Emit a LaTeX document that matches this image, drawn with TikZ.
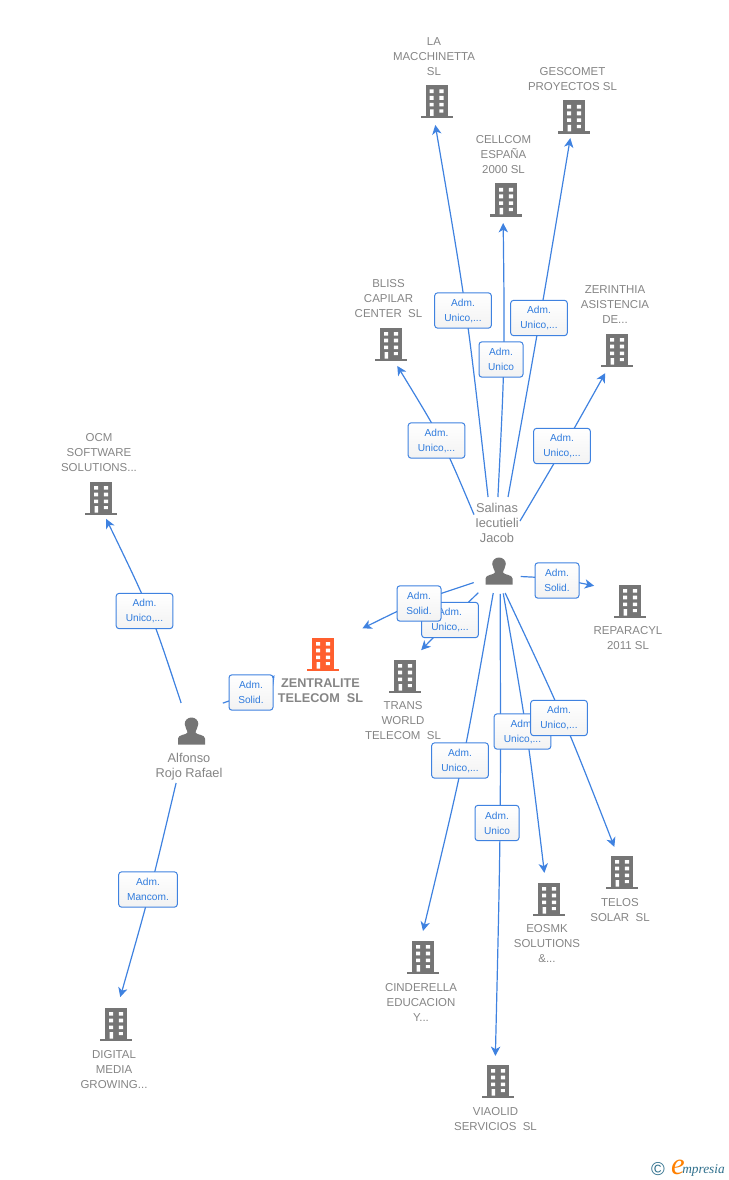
\documentclass[tikz,border=0pt]{standalone}
\usepackage{fontspec}
\setmainfont{Liberation Sans}
\newfontfamily\logofont{Liberation Serif}
\usetikzlibrary{arrows.meta,shapes.geometric}
\definecolor{grayicon}{HTML}{757575}
\definecolor{graytext}{HTML}{858585}
\definecolor{linkblue}{HTML}{3F82E0}
\definecolor{labelblue}{HTML}{2F7BDD}
\definecolor{accent}{HTML}{FF5F2E}
\definecolor{logoteal}{HTML}{2F6F8C}
\tikzset{
  x=0.75pt,y=0.75pt,
  conn/.style={draw=linkblue,line width=0.9pt,-{Stealth[length=7pt,width=7pt,inset=2pt]}},
  anchorzone/.style={circle,minimum size=#1*0.75pt,inner sep=0pt,outer sep=0pt},
  nm/.style={text=graytext,align=center,inner sep=0pt,font=\fontsize{8.6}{11.25}\selectfont},
  nmbold/.style={text=graytext,align=center,inner sep=0pt,outer sep=2.5pt,font=\bfseries\fontsize{9.5}{11.25}\selectfont},
  pname/.style={text=graytext,align=center,inner sep=0pt,outer sep=0pt,fill=white,font=\fontsize{9.6}{11.25}\selectfont},
  tag/.style={draw=linkblue,line width=0.75pt,rounded corners=2.2pt,top color=white,bottom color=black!5,
    text=labelblue,align=center,inner sep=0pt,minimum height=26.5pt,font=\fontsize{7.6}{11.25}\selectfont},
  tagS/.style={tag,minimum width=33pt},
  tagU/.style={tag,minimum width=42.5pt},
}
% building icon: name, x, y (centre), diameter of its connector zone, colour
\newcommand{\bld}[5]{%
  \node[anchorzone=#4] (#1) at (#2,#3) {};
  \begin{scope}[shift={(#2,#3+16.5)},y=-0.75pt]
    \fill[#5] (-11,0) rectangle (11,31);
    \fill[#5] (-16,31) rectangle (16,33.5);
    \fill[white] (-7,4.5) rectangle (-3,8.2) (2.8,4.5) rectangle (7,8.2)
      (-7,11) rectangle (-3,14.8) (2.8,11) rectangle (7,14.8)
      (-7,18) rectangle (-3,21.5) (2.8,18) rectangle (7,21.5)
      (-6.5,24.5) rectangle (-3,31) (2.8,24.5) rectangle (6.8,27.7);
  \end{scope}}
% person icon: name, x, y (centre), diameter of its connector zone
\newcommand{\psn}[4]{%
  \node[anchorzone=#4] (#1) at (#2,#3) {};
  \begin{scope}[shift={(#2,#3)}]
    \fill[grayicon] (-13.5,-13) -- (-13.5,-7) .. controls (-13.5,-3) and (-5,-3.5) .. (-4,-1)
      .. controls (-4,1) and (-6.8,4) .. (-6.8,7.5) .. controls (-6.8,11) and (-4,14) .. (0,14)
      .. controls (4,14) and (6.8,11) .. (6.8,7.5) .. controls (6.8,4) and (4,1) .. (4,-1)
      .. controls (5,-3.5) and (13.5,-3) .. (13.5,-7) -- (13.5,-13) -- cycle;
  \end{scope}}
\begin{document}
\begin{tikzpicture}
\useasboundingbox (0,0) rectangle (728,-1180);
% nodes with icons
\psn{pa}{499}{-571.5}{44.6}
\psn{pb}{191.5}{-731.5}{60.8}
\bld{la}{436.5}{-101.5}{47}{grayicon}
\bld{ge}{574}{-117}{42.8}{grayicon}
\bld{ce}{506}{-200}{46.4}{grayicon}
\bld{bl}{391}{-344}{45.6}{grayicon}
\bld{ze}{617}{-350}{51.9}{grayicon}
\bld{oc}{101}{-498}{43.2}{grayicon}
\bld{re}{630}{-601}{78}{grayicon}
\bld{zt}{323}{-654}{93.8}{accent}
\bld{tr}{405}{-676}{61}{grayicon}
\bld{te}{622}{-872}{52.5}{grayicon}
\bld{eo}{549}{-899}{53}{grayicon}
\bld{ci}{423}{-957}{52}{grayicon}
\bld{vi}{498}{-1081}{50.4}{grayicon}
\bld{di}{116}{-1024}{54.6}{grayicon}
% person names, with boxes the connectors start from
\node[pname,minimum width=34.5pt,minimum height=39pt] (pat) at (497,-523) {Salinas\\Iecutieli\\Jacob};
\node[pname,minimum height=24.75pt] (pbt) at (189,-766.5) {Alfonso\\Rojo Rafael};
\node[nmbold] (n8) at (320.5,-690.5) {ZENTRALITE\\TELECOM\ \ SL};
% connectors
\draw[conn] (pat.109) .. controls (467.1,-311) .. (la.-93.7);
\draw[conn] (pat.88) .. controls (504.8,-360) .. (ce.-97.4);
\draw[conn] (pat.67) .. controls (540.3,-317.5) .. (ge.-100.8);
\draw[conn] (pat.160.8) .. controls (442.8,-440.5) .. (bl.-74.7);
\draw[conn] (pat.5) .. controls (563.8,-447) .. (ze.-117.6);
\draw[conn] (pa.-13.4) .. controls (557,-578.3) .. (re.157.4);
\draw[conn,shorten <=4pt] (pa.-155.3) .. controls (418,-601) .. (zt.33.7);
\draw[conn,shorten <=5.5pt] (pa.-134.3) .. controls (449.6,-620.8) .. (tr.58.4);
\draw[conn] (pa.-105.6) .. controls (463.7,-762) .. (ci.90);
\draw[conn] (pa.-87.3) .. controls (500.8,-824.5) .. (vi.96.8);
\draw[conn] (pa.-79.5) .. controls (527.5,-733) .. (eo.100.9);
\draw[conn] (pa.-74.4) .. controls (564.8,-720) .. (te.107.7);
\draw[conn] (pb.110.2) .. controls (150.8,-611) .. (oc.-76.6);
\draw[conn] (pbt.-128.2) .. controls (150.7,-890) .. (di.81.6);
\draw[conn,shorten <=10pt] (pb.52) .. controls (266,-688) .. (n8.north west);
% connector labels, later ones on top
\node[tagU] (t1) at (463,-310.5) {Adm.\\Unico,...};
\node[tagU] (t2) at (539,-318) {Adm.\\Unico,...};
\node[tagS] (t3) at (501,-359.5) {Adm.\\Unico};
\node[tagU] (t4) at (436.5,-440.5) {Adm.\\Unico,...};
\node[tagU] (t5) at (562,-446) {Adm.\\Unico,...};
\node[tagS] (t6) at (557,-580.5) {Adm.\\Solid.};
\node[tagU] (t7) at (450,-620) {Adm.\\Unico,...};
\node[tagS] (t8) at (419,-603.5) {Adm.\\Solid.};
\node[tagU] (t9) at (522.5,-731.5) {Adm.\\Unico,...};
\node[tagU] (t10) at (559,-718) {Adm.\\Unico,...};
\node[tagU] (t11) at (460,-760.5) {Adm.\\Unico,...};
\node[tagS] (t12) at (497,-823) {Adm.\\Unico};
\node[tagU] (t13) at (144.5,-611) {Adm.\\Unico,...};
\node[tagS] (t14) at (251,-692.5) {Adm.\\Solid.};
\node[tagU,minimum width=44pt] (t15) at (148,-889.5) {Adm.\\Mancom.};
% names
\node[nm] (n1) at (434,-57) {LA\\MACCHINETTA\\SL};
\node[nm] (n2) at (572.5,-79.5) {GESCOMET\\PROYECTOS SL};
\node[nm] (n3) at (503.5,-155) {CELLCOM\\ESPAÑA\\2000 SL};
\node[nm] (n4) at (388.5,-299) {BLISS\\CAPILAR\\CENTER\ \ SL};
\node[nm] (n5) at (615,-305) {ZERINTHIA\\ASISTENCIA\\DE...};
\node[nm] (n6) at (99,-453) {OCM\\SOFTWARE\\SOLUTIONS...};
\node[nm] (n7) at (628,-638.5) {REPARACYL\\2011 SL};
\node[nm] (n9) at (403,-721) {TRANS\\WORLD\\TELECOM\ \ SL};
\node[nm] (n10) at (620,-910.5) {TELOS\\SOLAR\ \ SL};
\node[nm] (n11) at (547,-944) {EOSMK\\SOLUTIONS\\\&...};
\node[nm] (n12) at (421,-1002) {CINDERELLA\\EDUCACION\\Y...};
\node[nm] (n13) at (495.5,-1119.5) {VIAOLID\\SERVICIOS\ \ SL};
\node[nm] (n14) at (114,-1070) {DIGITAL\\MEDIA\\GROWING...};
% logo
\node[text=logoteal,inner sep=0pt,font=\fontsize{14}{14}\selectfont] (lg1) at (658,-1169) {©};
\node[text=orange,inner sep=0pt,font=\logofont\itshape\fontsize{23}{23}\selectfont] (lg2) at (678,-1167) {e};
\node[text=logoteal,anchor=west,inner sep=0pt,font=\logofont\itshape\fontsize{10}{10}\selectfont] (lg3) at (682,-1170) {mpresia};
\end{tikzpicture}
\end{document}
